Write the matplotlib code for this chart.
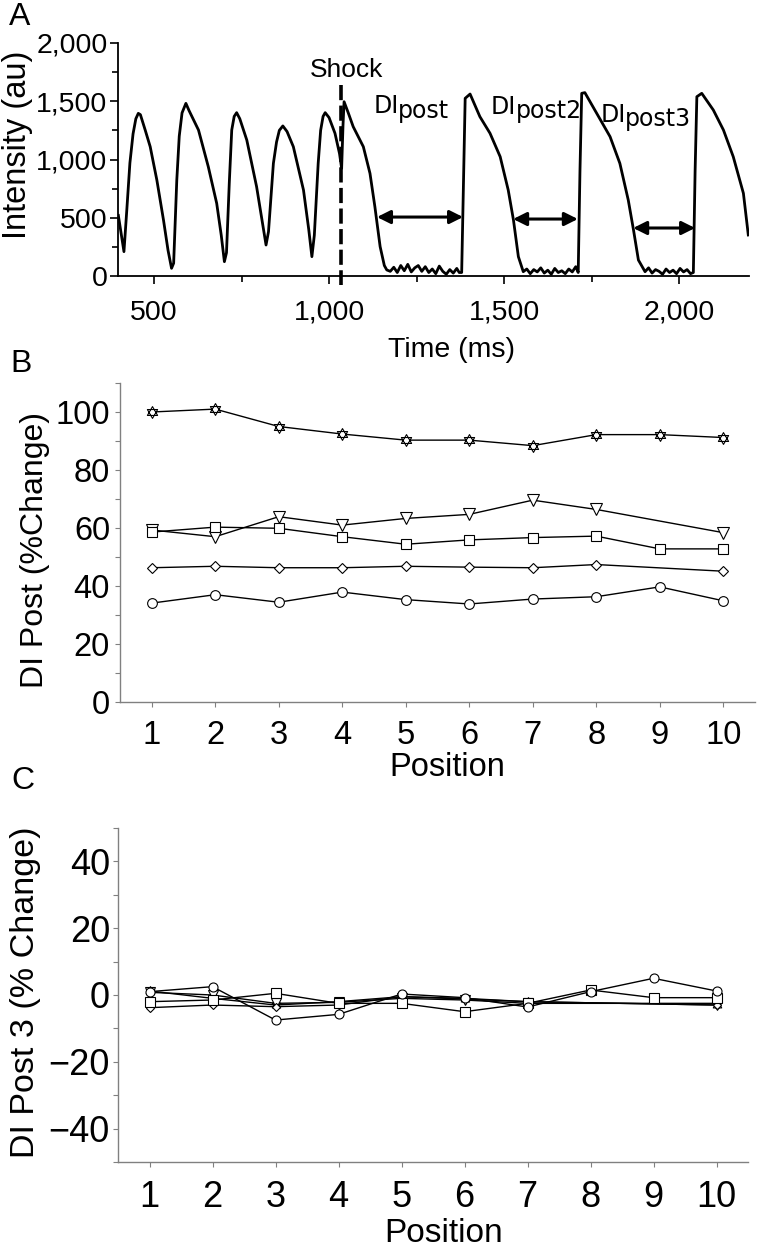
import numpy as np
import matplotlib
matplotlib.use('Agg')
import matplotlib.pyplot as plt
from matplotlib.path import Path
from matplotlib.ticker import MultipleLocator, FuncFormatter

plt.rcParams['font.family'] = ['Liberation Sans', 'DejaVu Sans']
plt.rcParams['axes.unicode_minus'] = True

W, H = 760, 1251

# ---------------- Panel A data ----------------
trace_time = [398, 414, 422, 431, 440, 448, 455, 461, 475, 489, 508, 527, 540, 550, 556,
              565, 572, 580, 591, 600, 627, 655, 679, 692, 701, 707,
              715, 722, 729, 736, 745, 765, 793, 810, 820, 827,
              841, 850, 858, 868, 880, 898, 927, 942, 951, 958,
              969, 976, 983, 989, 1000, 1017, 1030, 1036, 1040, 1043, 1055,
              1069, 1098, 1117, 1131, 1146, 1158, 1165,
              1175, 1185, 1195, 1205, 1215, 1225, 1235, 1245, 1255, 1265, 1275,
              1285, 1295, 1305, 1315, 1325, 1335, 1345, 1355, 1365, 1372,
              1379, 1385, 1389, 1403, 1431, 1460, 1489, 1512, 1527, 1541, 1555,
              1565, 1575, 1585, 1595, 1605, 1615, 1625, 1635, 1645, 1655, 1665,
              1675, 1685, 1695, 1705, 1712,
              1717, 1722, 1731, 1765, 1803, 1831, 1855, 1870, 1884, 1903,
              1913, 1923, 1933, 1943, 1953, 1963, 1973, 1983, 1993, 2003,
              2013, 2023, 2033, 2041,
              2046, 2051, 2065, 2098, 2127, 2155, 2184, 2198]
trace_intensity = [520, 209, 560, 970, 1220, 1350, 1396, 1385, 1250, 1110, 824, 480, 220, 66, 110,
                   824, 1200, 1400, 1482, 1420, 1253, 938, 624, 350, 123, 200,
                   800, 1253, 1370, 1402, 1350, 1167, 767, 450, 266, 380,
                   967, 1150, 1250, 1288, 1240, 1110, 738, 400, 166, 350,
                   967, 1250, 1370, 1402, 1360, 1225, 1050, 924, 1300, 1496, 1400,
                   1282, 1110, 881, 595, 252, 90, 52,
                   40, 75, 30, 90, 45, 100, 35, 70, 90, 40, 80,
                   30, 60, 20, 85, 40, 15, 55, 25, 65, 30,
                   30, 900, 1525, 1562, 1368, 1225, 1024, 738, 480, 166, 37,
                   60, 20, 55, 35, 70, 25, 50, 15, 65, 30, 45,
                   20, 60, 35, 80, 30,
                   900, 1568, 1574, 1396, 1196, 967, 652, 395, 137, 37,
                   70, 25, 55, 40, 15, 60, 30, 50, 20, 65,
                   35, 55, 20, 30,
                   900, 1539, 1568, 1425, 1253, 1024, 710, 352]
shock_time = 1034
shock_top = 1640
shock_bottom = -80
di_start = [1137, 1526, 1869]
di_end = [1383, 1711, 2046]
di_level = [506, 489, 412]
di_subscripts = ['post', 'post2', 'post3']
di_label_time = [1126, 1463, 1777]
di_label_int = [1396, 1391, 1325]

# ---------------- Panel B data ----------------
positions = [1, 2, 3, 4, 5, 6, 7, 8, 9, 10]
pos_skip9 = [1, 2, 3, 4, 5, 6, 7, 8, 10]
b_star = [100, 101, 95, 92.4, 90.3, 90.3, 88.4, 92.2, 92.2, 91.2]
b_triangle = [59.3, 57, 63.9, 61, 63.3, 64.7, 69.6, 66.4, 58.4]
b_square = [58.6, 60.3, 59.9, 57, 54.4, 55.9, 56.7, 57.2, 52.8, 52.8]
b_diamond = [46.3, 46.8, 46.3, 46.3, 46.8, 46.5, 46.3, 47.4, 45.1]
b_circle = [34.1, 37, 34.4, 37.9, 35.3, 33.8, 35.5, 36.3, 39.7, 34.9]

# ---------------- Panel C data ----------------
pos_skip89 = [1, 2, 3, 4, 5, 6, 7, 10]
c_circle = [1.0, 2.5, -7.5, -5.8, 0.3, -0.8, -3.6, 1.0, 5.0, 1.2]
c_square = [-2.0, -1.5, 0.5, -2.5, -2.5, -5.0, -2.5, 1.5, -0.8, -0.8]
c_diamond = [-3.8, -3.0, -3.5, -3.0, -0.5, -1.0, -2.0, -3.0]
c_triangle = [0.8, 0.0, -2.5, -2.2, -1.0, -1.5, -2.5, -2.5]
c_star = [1.2, -1.0, -3.0, -2.0, -0.5, -1.2, -2.0, -3.0]

# ---------------- helpers ----------------
ang_up = np.deg2rad([90, 210, 330])
verts, codes = [], []
for angs in (ang_up, ang_up + np.pi):
    pts = [(np.cos(a), np.sin(a)) for a in angs]
    verts += pts + [pts[0]]
    codes += [Path.MOVETO, Path.LINETO, Path.LINETO, Path.CLOSEPOLY]
hexagram = Path(verts, codes)

fig = plt.figure(figsize=(W / 100, H / 100), dpi=100)


def ftext(px, py, s, **kw):
    return fig.text(px / W, 1 - py / H, s, **kw)


def add_axes_px(left, top, right, bottom):
    return fig.add_axes([left / W, 1 - bottom / H, (right - left) / W, (bottom - top) / H])


# ---------------- Panel A ----------------
axA = add_axes_px(118, 43, 749, 276)
axA.plot(trace_time, trace_intensity, color='black', lw=2.0, solid_joinstyle='round')
axA.plot([shock_time, shock_time], [shock_top, shock_bottom], color='black', lw=2.6,
         dashes=[4.2, 1.5], clip_on=False)
for s, e, lvl in zip(di_start, di_end, di_level):
    axA.annotate('', xy=(s, lvl), xytext=(e, lvl),
                 arrowprops=dict(arrowstyle='<|-|>', lw=2.2, color='black',
                                 mutation_scale=20, shrinkA=0, shrinkB=0))
for t, iv, sub in zip(di_label_time, di_label_int, di_subscripts):
    axA.text(t, iv, 'DI', family='DejaVu Sans', fontsize=17, ha='left', va='baseline')
    axA.annotate(sub, xy=(t, iv), xytext=(17.5, -3.0), textcoords='offset points',
                 family='DejaVu Sans', fontsize=17, ha='left', va='baseline')
axA.text(946, 1708, 'Shock', fontsize=19, ha='left', va='baseline')
axA.set_xlim(397, 2200)
axA.set_ylim(0, 2000)
for sp in ['top', 'right']:
    axA.spines[sp].set_visible(False)
for sp in ['left', 'bottom']:
    axA.spines[sp].set_linewidth(1.3)
axA.xaxis.set_major_locator(MultipleLocator(500))
axA.xaxis.set_minor_locator(MultipleLocator(250))
axA.yaxis.set_major_locator(MultipleLocator(500))
axA.yaxis.set_minor_locator(MultipleLocator(250))
fmt = FuncFormatter(lambda v, p: f"{v:,.0f}")
axA.xaxis.set_major_formatter(fmt)
axA.yaxis.set_major_formatter(fmt)
axA.tick_params(which='both', direction='out', width=1.2, colors='black')
axA.tick_params(which='major', length=6, labelsize=20.5)
axA.tick_params(which='minor', length=4)
axA.tick_params(axis='y', which='major', pad=1.5)
axA.tick_params(axis='x', which='major', pad=11)
ftext(18, 145, 'Intensity (au)', rotation=90, fontsize=23.5, ha='center', va='center')
ftext(452, 350, 'Time (ms)', fontsize=20.5, ha='center', va='center')
ftext(20, 17, 'A', fontsize=23, ha='center', va='center')

# ---------------- Panel B ----------------
axB = add_axes_px(120, 383, 755, 702)
mk = dict(color='black', lw=1.0, markerfacecolor='white', markeredgecolor='black', markeredgewidth=0.8)
axB.plot(positions, b_star, marker=hexagram, markersize=8.5, **mk)
axB.plot(pos_skip9, b_triangle, marker='v', markersize=8, **mk)
axB.plot(positions, b_square, marker='s', markersize=7.5, **mk)
axB.plot(pos_skip9, b_diamond, marker='D', markersize=5, **mk)
axB.plot(positions, b_circle, marker='o', markersize=7, **mk)
axB.set_xlim(0.5, 10.5)
axB.set_ylim(0, 110)
axB.xaxis.set_major_locator(MultipleLocator(1))
axB.yaxis.set_major_locator(MultipleLocator(20))
axB.yaxis.set_minor_locator(MultipleLocator(10))
for sp in ['top', 'right']:
    axB.spines[sp].set_visible(False)
for sp in ['left', 'bottom']:
    axB.spines[sp].set_color('#808080')
    axB.spines[sp].set_linewidth(1.0)
axB.tick_params(which='both', direction='out', color='#808080', width=0.8, length=3.6,
                labelcolor='black')
axB.tick_params(which='major', labelsize=23.5)
axB.tick_params(axis='y', pad=3.6)
axB.tick_params(axis='x', pad=9.4)
ftext(35, 550, 'DI Post (%Change)', rotation=90, fontsize=23, ha='center', va='center')
ftext(447, 768, 'Position', fontsize=23.5, ha='center', va='center')
ftext(21, 364, 'B', fontsize=23, ha='center', va='center')

# ---------------- Panel C ----------------
axC = add_axes_px(118, 828, 748, 1162)
mkc = dict(color='black', lw=1.0, markerfacecolor='white', markeredgecolor='black', markeredgewidth=0.8)
axC.plot(pos_skip89, c_star, marker=hexagram, markersize=7, **mkc)
axC.plot(pos_skip89, c_triangle, marker='v', markersize=7, **mkc)
axC.plot(pos_skip89, c_diamond, marker='D', markersize=4.5, **mkc)
axC.plot(positions, c_square, marker='s', markersize=7, **mkc)
axC.plot(positions, c_circle, marker='o', markersize=6.5, **mkc)
axC.set_xlim(0.5, 10.5)
axC.set_ylim(-50, 50)
axC.xaxis.set_major_locator(MultipleLocator(1))
axC.yaxis.set_major_locator(MultipleLocator(20))
axC.yaxis.set_minor_locator(MultipleLocator(10))
for sp in ['top', 'right']:
    axC.spines[sp].set_visible(False)
for sp in ['left', 'bottom']:
    axC.spines[sp].set_color('#808080')
    axC.spines[sp].set_linewidth(1.0)
axC.tick_params(which='both', direction='out', color='#808080', width=0.8, length=3.6,
                labelcolor='black')
axC.tick_params(which='major', labelsize=26)
axC.tick_params(axis='y', pad=2.2)
axC.tick_params(axis='x', pad=9.4)
ftext(26, 992, 'DI Post 3 (% Change)', rotation=90, fontsize=24.5, ha='center', va='center')
ftext(444, 1234, 'Position', fontsize=24, ha='center', va='center')
ftext(23, 781, 'C', fontsize=23, ha='center', va='center')

fig.savefig('out.png', dpi=100)
